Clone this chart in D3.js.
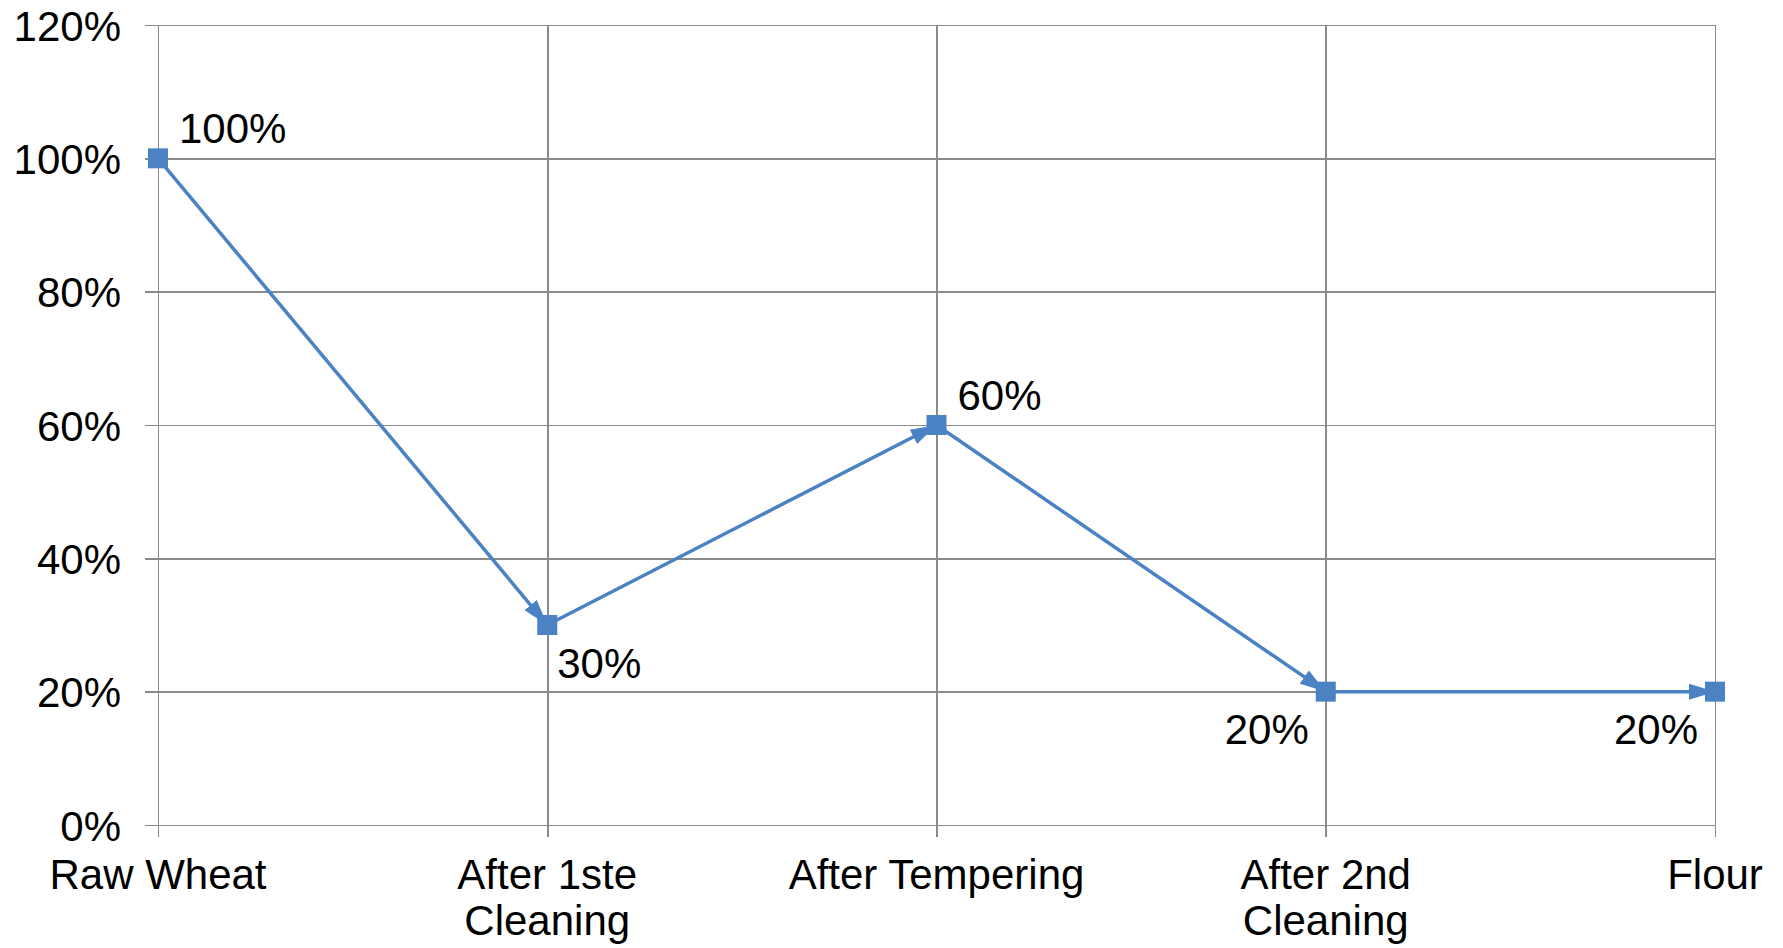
<!DOCTYPE html>
<html>
<head>
<meta charset="utf-8">
<script src="https://cdn.jsdelivr.net/npm/d3@7"></script>
<style>
  html, body { margin: 0; padding: 0; background: #ffffff; }
  svg { display: block; }
  text { font-family: "Liberation Sans", Arial, sans-serif; fill: #000; }
</style>
</head>
<body>
<svg id="chart" width="1783" height="948"></svg>
<script>
// Share of the original value remaining at each processing stage
const categories = ["Raw Wheat", "After 1ste Cleaning", "After Tempering", "After 2nd Cleaning", "Flour"];
const values = [1.00, 0.30, 0.60, 0.20, 0.20];
const yTicks = [0, 0.2, 0.4, 0.6, 0.8, 1.0, 1.2];
// Where each value label sits relative to its point
const labelSide = ["ne", "se", "ne", "sw", "sw"];

const W = 1783, H = 948;
const margin = { top: 25, right: 68, bottom: 123, left: 158 };
const blue = "#4a82c4";
const grid = "#8a8a8a";
const fontSize = 42;

const svg = d3.select("#chart");

const x = d3.scalePoint()
  .domain(categories)
  .range([margin.left, W - margin.right]);

const y = d3.scaleLinear()
  .domain([0, 1.2])
  .range([H - margin.bottom, margin.top]);

const pct = d3.format(".0%");

// Horizontal gridlines with left tick marks
const yAxis = d3.axisLeft(y)
  .tickValues(yTicks)
  .tickFormat(pct)
  .tickSize(-(W - margin.left - margin.right))
  .tickPadding(0);

const gy = svg.append("g")
  .attr("transform", `translate(${margin.left},0)`)
  .call(yAxis);
gy.select(".domain").remove();
gy.selectAll(".tick line")
  .attr("x1", -13)
  .attr("stroke", grid)
  .attr("stroke-width", 1.6)
  .attr("shape-rendering", "crispEdges");
gy.selectAll(".tick text")
  .attr("x", -37)
  .attr("dy", 15)
  .attr("font-size", fontSize)
  .attr("text-anchor", "end");

// Vertical gridlines with bottom tick marks
const xAxis = d3.axisBottom(x)
  .tickSize(-(H - margin.top - margin.bottom))
  .tickPadding(0);

const gx = svg.append("g")
  .attr("transform", `translate(0,${H - margin.bottom})`)
  .call(xAxis);
gx.select(".domain").remove();
gx.selectAll(".tick line")
  .attr("y1", 12)
  .attr("stroke", grid)
  .attr("stroke-width", 1.6)
  .attr("shape-rendering", "crispEdges");
gx.selectAll(".tick text").remove();

// Category labels, wrapped onto a second line when too wide
const wrapWidth = 330;
const labelG = svg.append("g");
categories.forEach(c => {
  const t = labelG.append("text")
    .attr("x", x(c))
    .attr("y", 889)
    .attr("font-size", fontSize)
    .attr("text-anchor", "middle");
  const words = c.split(" ");
  let line = [];
  let tspan = t.append("tspan").attr("x", x(c)).attr("dy", 0);
  words.forEach(w => {
    line.push(w);
    tspan.text(line.join(" "));
    if (tspan.node().getComputedTextLength() > wrapWidth && line.length > 1) {
      line.pop();
      tspan.text(line.join(" "));
      line = [w];
      tspan = t.append("tspan").attr("x", x(c)).attr("dy", 46).text(w);
    }
  });
});

// Arrowhead for each connecting segment
svg.append("defs").append("marker")
  .attr("id", "arrow")
  .attr("markerUnits", "userSpaceOnUse")
  .attr("viewBox", "0 0 26 16")
  .attr("refX", 26)
  .attr("refY", 8)
  .attr("markerWidth", 26)
  .attr("markerHeight", 16)
  .attr("orient", "auto")
  .append("path")
  .attr("d", "M0,0 L26,8 L0,16 Z")
  .attr("fill", blue);

const pts = categories.map((c, i) => ({ c, v: values[i], side: labelSide[i] }));

svg.append("g")
  .selectAll("line")
  .data(d3.pairs(pts))
  .join("line")
  .attr("x1", d => x(d[0].c))
  .attr("y1", d => y(d[0].v))
  .attr("x2", d => x(d[1].c))
  .attr("y2", d => y(d[1].v))
  .attr("stroke", blue)
  .attr("stroke-width", 3.5)
  .attr("marker-end", "url(#arrow)");

// Square markers
const ms = 20;
svg.append("g")
  .selectAll("rect")
  .data(pts)
  .join("rect")
  .attr("x", d => x(d.c) - ms / 2)
  .attr("y", d => y(d.v) - ms / 2)
  .attr("width", ms)
  .attr("height", ms)
  .attr("fill", blue);

// Value labels
const offs = {
  ne: { dx: 21, dy: -15, anchor: "start" },
  se: { dx: 10, dy: 53, anchor: "start" },
  sw: { dx: -17, dy: 52, anchor: "end" }
};
svg.append("g")
  .selectAll("text")
  .data(pts)
  .join("text")
  .attr("x", d => x(d.c) + offs[d.side].dx)
  .attr("y", d => y(d.v) + offs[d.side].dy)
  .attr("text-anchor", d => offs[d.side].anchor)
  .attr("font-size", fontSize)
  .text(d => pct(d.v));
</script>
</body>
</html>
